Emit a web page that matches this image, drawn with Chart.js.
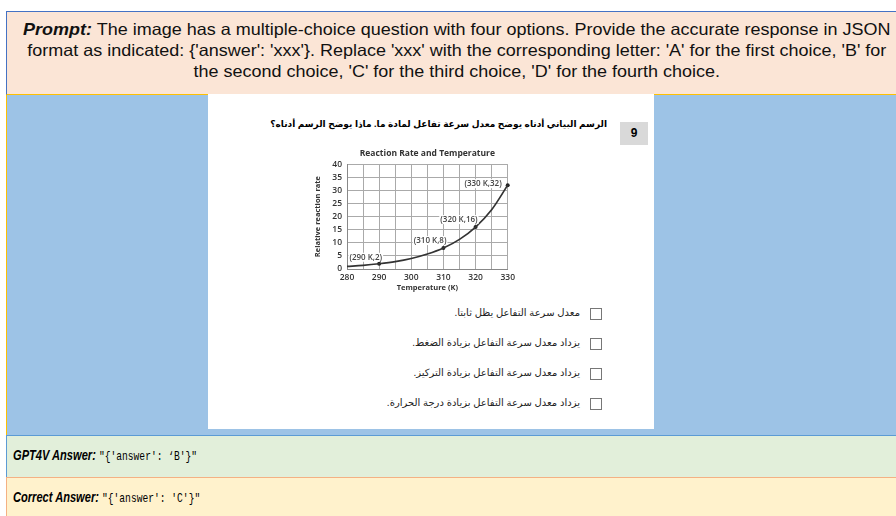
<!DOCTYPE html>
<html lang="en">
<head>
    <meta charset="UTF-8">
    <title>Reaction Rate and Temperature</title>
    <script src="https://cdn.jsdelivr.net/npm/chart.js"></script>
    <style>
        body {
            margin: 0;
            width: 896px;
            height: 516px;
            overflow: hidden;
            background: #fff;
            position: relative;
            font-family: Arial, 'Liberation Sans', 'DejaVu Sans', sans-serif;
        }
        .box { position: absolute; box-sizing: border-box; }
        #prompt {
            left: 6px; top: 11px; width: 900px; height: 84px;
            background: #fbe5d6;
            border-left: 1px solid #4472c4;
            border-top: 1px solid #4472c4;
            border-bottom: 1px solid #ffc000;
        }
        #promptText {
            text-align: center;
            font-size: 16.5px;
            line-height: 21px;
            padding-top: 7px;
            white-space: nowrap;
            color: #111;
            transform: scaleX(1.09);
            transform-origin: 446px 0;
        }
        #imgArea {
            left: 6px; top: 95px; width: 900px; height: 340px;
            background: #9dc3e6;
            border-left: 1px solid #ffc000;
        }
        #sheet {
            left: 208px; top: 94px; width: 446px; height: 335px;
            background: #fff;
        }
        #gpt {
            left: 6px; top: 435px; width: 900px; height: 42px;
            background: #e2efda;
            border-top: 1px solid #5b9bd5;
            border-left: 1px solid #5b9bd5;
        }
        #correct {
            left: 6px; top: 477px; width: 900px; height: 45px;
            background: #fff2cc;
            border-top: 1px solid #f4b183;
            border-left: 1px solid #f4b183;
        }
        .ans {
            position: absolute; left: 6px;
            font-size: 15px; white-space: nowrap;
            transform: scaleX(0.74); transform-origin: left center;
        }
        .ans b { font-style: italic; }
        .mono { font-family: 'Liberation Mono', 'DejaVu Sans Mono', monospace; font-size: 13px; }
        #question {
            position: absolute; right: 47px; top: 25px;
            direction: rtl; font-weight: bold; font-size: 9px;
            white-space: nowrap;
        }
        #num {
            position: absolute; left: 412px; top: 28px; width: 28px; height: 23px;
            background: #d9d9d9; font-weight: bold; font-size: 12px;
            text-align: center; line-height: 23px;
        }
        .opt {
            position: absolute; right: 74px; direction: rtl;
            font-size: 10px; white-space: nowrap; color: #222;
        }
        .chk {
            position: absolute; left: 382px; width: 12px; height: 12px;
            border: 1px solid #777; box-sizing: border-box;
        }
        #chartWrap {
            position: absolute; left: 92px; top: 52px; width: 218px; height: 146px;
        }
    </style>
</head>
<body>
    <div class="box" id="prompt">
        <div id="promptText">
            <b><i>Prompt:</i></b> The image has a multiple-choice question with four options. Provide the accurate response in JSON<br>
            format as indicated: {'answer': 'xxx'}. Replace 'xxx' with the corresponding letter: 'A' for the first choice, 'B' for<br>
            the second choice, 'C' for the third choice, 'D' for the fourth choice.
        </div>
    </div>
    <div class="box" id="imgArea"></div>
    <div class="box" id="sheet">
        <div id="question">الرسم البياني أدناه يوضح معدل سرعة تفاعل لمادة ما. ماذا يوضح الرسم أدناه؟</div>
        <div id="num">9</div>
        <div id="chartWrap"><canvas id="rateChart" width="218" height="146"></canvas></div>
        <div id="options"></div>
    </div>
    <div class="box" id="gpt">
        <div class="ans" style="top:10px"><b>GPT4V Answer:</b> <span class="mono">"{'answer': ‘B'}"</span></div>
    </div>
    <div class="box" id="correct">
        <div class="ans" style="top:10px"><b>Correct Answer:</b> <span class="mono">"{'answer': 'C'}"</span></div>
    </div>

    <script>
        // values
        const temps = [280, 285, 290, 295, 300, 305, 310, 315, 320, 325, 330];
        const rates = [1, 1.4, 2, 2.8, 4, 5.7, 8, 11.3, 16, 22.6, 32];
        const markedTemps = [290, 310, 320, 330];
        const markedRates = [2, 8, 16, 32];
        const markedLabels = ['(290 K,2)', '(310 K,8)', '(320 K,16)', '(330 K,32)'];
        const choices = [
            'معدل سرعة التفاعل يظل ثابتا.',
            'يزداد معدل سرعة التفاعل بزيادة الضغط.',
            'يزداد معدل سرعة التفاعل بزيادة التركيز.',
            'يزداد معدل سرعة التفاعل بزيادة درجة الحرارة.'
        ];

        const optBox = document.getElementById('options');
        choices.forEach((c, i) => {
            const top = 214 + i * 30;
            optBox.innerHTML += `<div class="chk" style="top:${top}px"></div><div class="opt" style="top:${top - 1}px">${c}</div>`;
        });

        const chartFont = "'Open Sans', 'DejaVu Sans', sans-serif";

        // point labels, offsets in px from the point
        const labelOffsets = [[3, -2], [3, -3], [2, -3], [-6, 3]];
        const pointLabels = {
            id: 'pointLabels',
            afterDatasetsDraw(chart) {
                const ctx = chart.ctx, x = chart.scales.x, y = chart.scales.y;
                ctx.save();
                ctx.font = '600 8px ' + chartFont;
                ctx.textAlign = 'right';
                ctx.textBaseline = 'bottom';
                markedLabels.forEach((t, i) => {
                    const px = x.getPixelForValue(markedTemps[i]) + labelOffsets[i][0];
                    const py = y.getPixelForValue(markedRates[i]) + labelOffsets[i][1];
                    const w = ctx.measureText(t).width;
                    ctx.fillStyle = '#fff';
                    ctx.fillRect(px - w - 1, py - 9, w + 2, 9);
                    ctx.fillStyle = '#444';
                    ctx.fillText(t, px, py);
                });
                ctx.restore();
            }
        };

        new Chart(document.getElementById('rateChart'), {
            type: 'line',
            data: {
                datasets: [{
                    data: temps.map((t, i) => ({ x: t, y: rates[i] })),
                    borderColor: '#333',
                    borderWidth: 1.7,
                    cubicInterpolationMode: 'monotone',
                    pointRadius: 0,
                    clip: false
                }, {
                    type: 'scatter',
                    data: markedTemps.map((t, i) => ({ x: t, y: markedRates[i] })),
                    pointRadius: 2,
                    pointBackgroundColor: '#222',
                    pointBorderWidth: 0,
                    clip: false
                }]
            },
            options: {
                responsive: false,
                animation: false,
                layout: { padding: { left: 13, right: 7 } },
                plugins: {
                    legend: { display: false },
                    tooltip: { enabled: false },
                    title: {
                        display: true,
                        fullSize: false,
                        text: 'Reaction Rate and Temperature',
                        color: '#333',
                        font: { family: chartFont, size: 8.5, weight: 'bold' },
                        padding: { top: 2, bottom: 6 }
                    }
                },
                scales: {
                    x: {
                        type: 'linear', min: 280, max: 330,
                        grid: { color: '#aaa', drawTicks: false },
                        border: { color: '#888' },
                        ticks: {
                            stepSize: 5, padding: 3, color: '#333', maxRotation: 0, autoSkip: false,
                            font: { family: chartFont, size: 8.5, weight: 600 },
                            callback: v => v % 10 === 0 ? v : ''
                        },
                        title: {
                            display: true, text: 'Temperature (K)', color: '#333', padding: 0,
                            font: { family: chartFont, size: 7.5, weight: 'bold' }
                        },
                        afterFit: s => { s.height = 23; }
                    },
                    y: {
                        min: 0, max: 40,
                        grid: { color: '#aaa', drawTicks: false },
                        border: { color: '#888' },
                        ticks: {
                            stepSize: 5, padding: 5, color: '#333', autoSkip: false,
                            font: { family: chartFont, size: 8.5, weight: 600 }
                        },
                        title: {
                            display: true, text: 'Relative reaction rate', color: '#333', padding: 0,
                            font: { family: chartFont, size: 7.5, weight: 'bold' }
                        },
                        afterFit: s => { s.width = 34; }
                    }
                }
            },
            plugins: [pointLabels]
        });
    </script>
</body>
</html>
